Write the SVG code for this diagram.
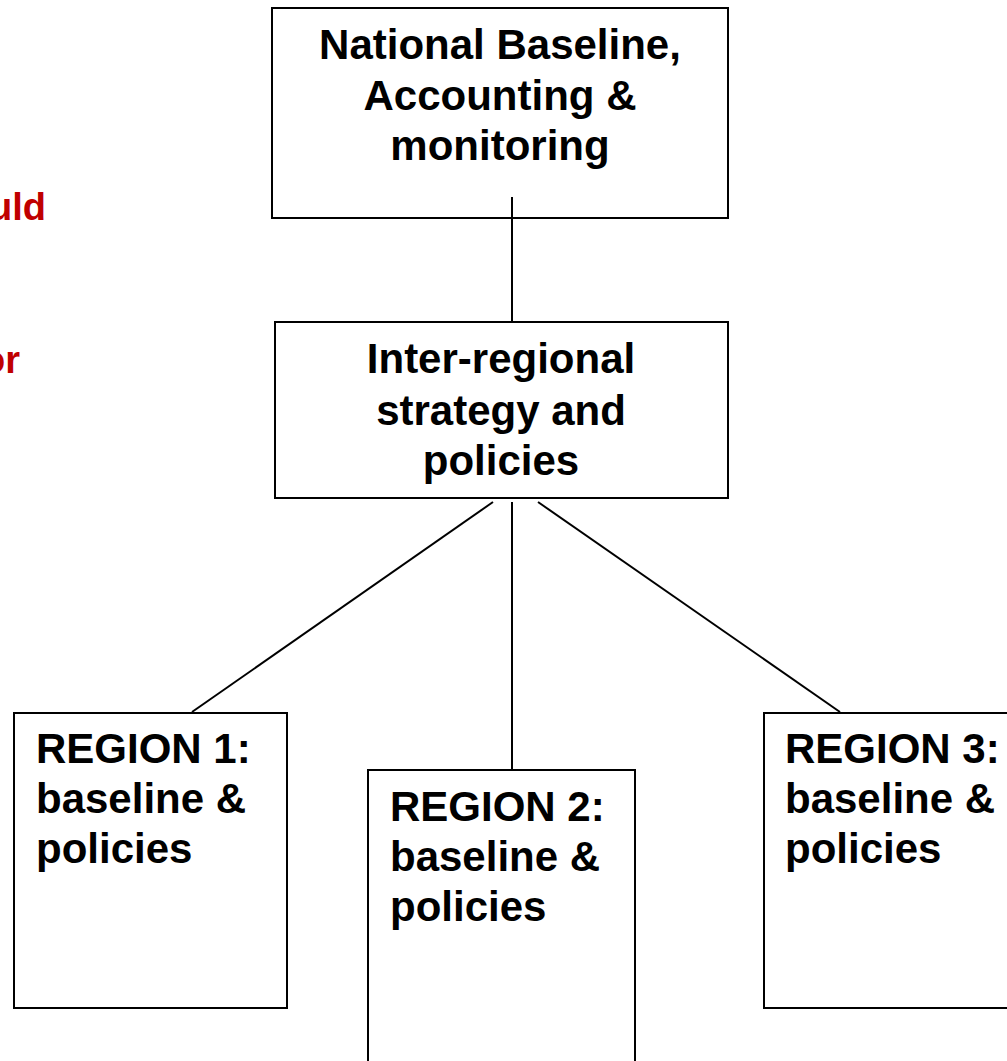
<svg xmlns="http://www.w3.org/2000/svg" width="1007" height="1061" viewBox="0 0 1007 1061">
<style>
.box{fill:#fff;stroke:#000;stroke-width:2}
.t{font-family:"Liberation Sans",Arial,sans-serif;font-weight:bold;font-size:42px;fill:#000}
.c{text-anchor:middle}
.red{font-family:"Liberation Sans",Arial,sans-serif;font-weight:bold;font-size:38px;fill:#C00000;text-anchor:end}
.ln{stroke:#000;stroke-width:2;fill:none}
</style>
<rect width="1007" height="1061" fill="#fff"/>
<g id="red-text">
<text class="red" x="46" y="220">uld</text>
<text class="red" x="20" y="373">or</text>
</g>
<g id="national">
<rect class="box" x="272" y="8" width="456" height="210"/>
<text class="t c" x="500" y="59">National Baseline,</text>
<text class="t c" x="500" y="110">Accounting &amp;</text>
<text class="t c" x="500" y="160">monitoring</text>
</g>
<g id="interregional">
<rect class="box" x="275" y="322" width="453" height="176"/>
<text class="t c" x="501" y="373">Inter-regional</text>
<text class="t c" x="501" y="425">strategy and</text>
<text class="t c" x="501" y="475">policies</text>
</g>
<g id="region1">
<rect class="box" x="14" y="713" width="273" height="295"/>
<text class="t" x="36" y="763">REGION 1:</text>
<text class="t" x="36" y="813">baseline &amp;</text>
<text class="t" x="36" y="863">policies</text>
</g>
<g id="region2">
<rect class="box" x="368" y="770" width="267" height="310"/>
<text class="t" x="390" y="821">REGION 2:</text>
<text class="t" x="390" y="871">baseline &amp;</text>
<text class="t" x="390" y="921">policies</text>
</g>
<g id="region3">
<rect class="box" x="764" y="713" width="260" height="295"/>
<text class="t" x="785" y="763">REGION 3:</text>
<text class="t" x="785" y="813">baseline &amp;</text>
<text class="t" x="785" y="863">policies</text>
</g>
<g id="connectors">
<line class="ln" x1="512" y1="197" x2="512" y2="322"/>
<line class="ln" x1="493" y1="502" x2="192" y2="712"/>
<line class="ln" x1="512" y1="502" x2="512" y2="770"/>
<line class="ln" x1="538" y1="502" x2="840" y2="712"/>
</g>
</svg>
